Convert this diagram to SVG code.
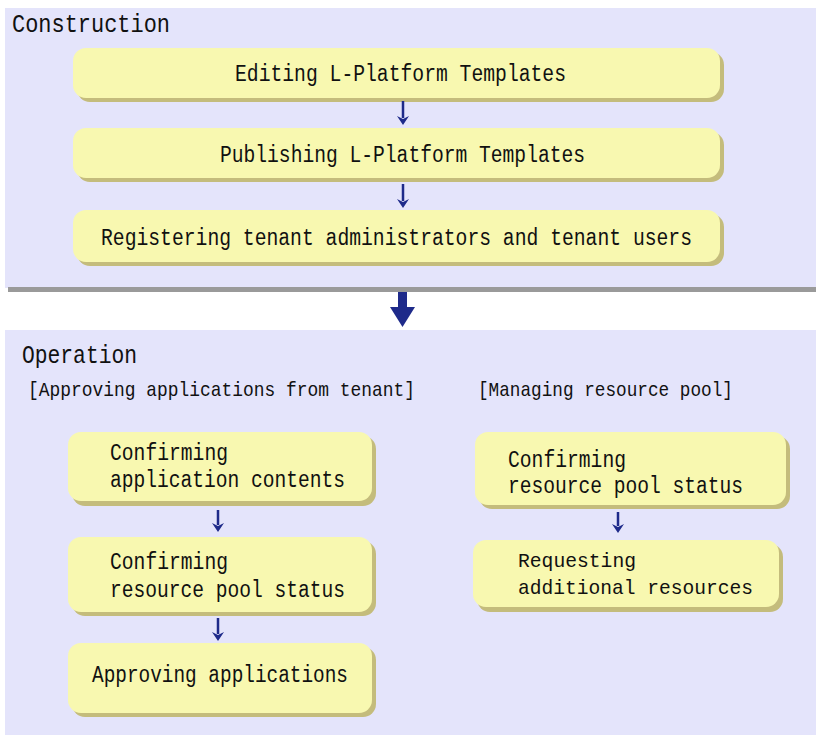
<svg xmlns="http://www.w3.org/2000/svg" width="816" height="735" viewBox="0 0 816 735">
<defs>
<style>
.panel{fill:#e4e4fb}
.box{fill:#f8f8b0}
.shd{fill:#c4bc7c}
.t{font-family:"Liberation Mono","DejaVu Sans Mono",monospace;font-size:23px;fill:#111}
.t2{font-family:"Liberation Mono","DejaVu Sans Mono",monospace;font-size:21px;fill:#111}
.h{font-family:"Liberation Mono","DejaVu Sans Mono",monospace;font-size:26px;fill:#111}
.s{font-family:"Liberation Mono","DejaVu Sans Mono",monospace;font-size:21px;fill:#111}
.ar{stroke:#1e2a8a;stroke-width:2.5;fill:none}
.ah{fill:#1e2a8a}
</style>
</defs>
<rect x="0" y="0" width="816" height="735" fill="#ffffff"/>
<g id="construction-panel">
<rect class="panel" x="5" y="8" width="811" height="280"/>
<rect x="8" y="287" width="808" height="5" fill="#9a9a9a"/>
<text class="h" x="12" y="32" textLength="158" lengthAdjust="spacingAndGlyphs">Construction</text>
</g>
<g id="operation-panel">
<rect class="panel" x="5" y="330" width="811" height="405"/>
<text class="h" x="22" y="363" textLength="115" lengthAdjust="spacingAndGlyphs">Operation</text>
<text class="s" x="28" y="396" textLength="387" lengthAdjust="spacingAndGlyphs">[Approving applications from tenant]</text>
<text class="s" x="478" y="396" textLength="255" lengthAdjust="spacingAndGlyphs">[Managing resource pool]</text>
</g>
<g id="n1">
<rect class="shd" x="77" y="52" width="647" height="50" rx="13"/>
<rect class="box" x="73" y="48" width="647" height="50" rx="13"/>
<text class="t" x="235" y="81" textLength="331" lengthAdjust="spacingAndGlyphs">Editing L-Platform Templates</text>
</g>
<g id="n2">
<rect class="shd" x="77" y="132" width="647" height="50" rx="13"/>
<rect class="box" x="73" y="128" width="647" height="50" rx="13"/>
<text class="t" x="220" y="162" textLength="365" lengthAdjust="spacingAndGlyphs">Publishing L-Platform Templates</text>
</g>
<g id="n3">
<rect class="shd" x="77" y="214" width="647" height="52" rx="13"/>
<rect class="box" x="73" y="210" width="647" height="52" rx="13"/>
<text class="t" x="101" y="245" textLength="591" lengthAdjust="spacingAndGlyphs">Registering tenant administrators and tenant users</text>
</g>
<g id="a1">
<rect class="shd" x="72" y="436" width="304" height="70" rx="13"/>
<rect class="box" x="68" y="432" width="304" height="69" rx="13"/>
<text class="t" x="110" y="460" textLength="118" lengthAdjust="spacingAndGlyphs">Confirming</text>
<text class="t" x="110" y="487" textLength="235" lengthAdjust="spacingAndGlyphs">application contents</text>
</g>
<g id="a2">
<rect class="shd" x="72" y="541" width="304" height="75" rx="13"/>
<rect class="box" x="68" y="537" width="304" height="75" rx="13"/>
<text class="t" x="110" y="569" textLength="118" lengthAdjust="spacingAndGlyphs">Confirming</text>
<text class="t" x="110" y="597" textLength="235" lengthAdjust="spacingAndGlyphs">resource pool status</text>
</g>
<g id="a3">
<rect class="shd" x="72" y="647" width="304" height="70" rx="13"/>
<rect class="box" x="68" y="643" width="304" height="70" rx="13"/>
<text class="t" x="92" y="682" textLength="256" lengthAdjust="spacingAndGlyphs">Approving applications</text>
</g>
<g id="b1">
<rect class="shd" x="479" y="436" width="311" height="73" rx="13"/>
<rect class="box" x="475" y="432" width="311" height="73" rx="13"/>
<text class="t" x="508" y="467" textLength="118" lengthAdjust="spacingAndGlyphs">Confirming</text>
<text class="t" x="508" y="493" textLength="235" lengthAdjust="spacingAndGlyphs">resource pool status</text>
</g>
<g id="b2">
<rect class="shd" x="477" y="544" width="306" height="68" rx="13"/>
<rect class="box" x="473" y="540" width="306" height="67" rx="13"/>
<text class="t2" x="518" y="567" textLength="118" lengthAdjust="spacingAndGlyphs">Requesting</text>
<text class="t2" x="518" y="594" textLength="235" lengthAdjust="spacingAndGlyphs">additional resources</text>
</g>
<g id="connectors">
<path class="ar" d="M403 101 V118"/>
<path class="ah" d="M397 116 L403 125 L409 116 L403 119 Z"/>
<path class="ar" d="M403 184 V201"/>
<path class="ah" d="M397 199 L403 208 L409 199 L403 202 Z"/>
<path d="M398 292 H407 V307 H415 L402.5 327 L390 307 H398 Z" fill="#1e2a8a"/>
<path class="ar" d="M218 510 V525"/>
<path class="ah" d="M212 523 L218 532 L224 523 L218 526 Z"/>
<path class="ar" d="M218 618 V634"/>
<path class="ah" d="M212 632 L218 641 L224 632 L218 635 Z"/>
<path class="ar" d="M618 512 V526"/>
<path class="ah" d="M612 524 L618 533 L624 524 L618 527 Z"/>
</g>
</svg>
